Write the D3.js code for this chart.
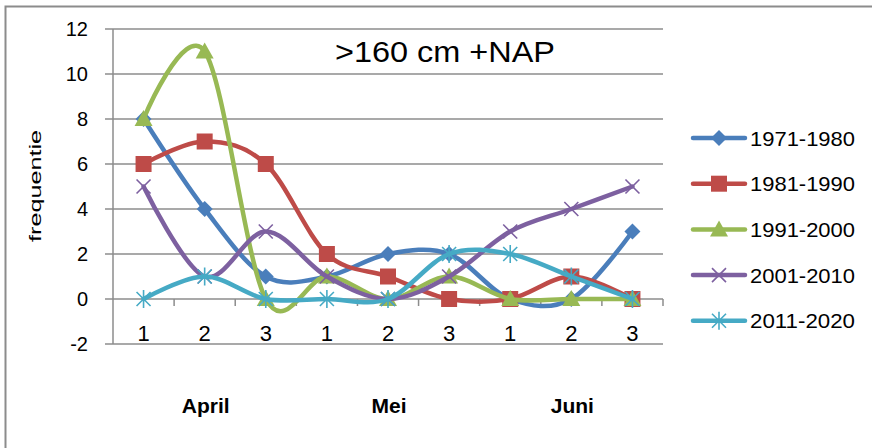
<!DOCTYPE html>
<meta charset="utf-8">
<style>
    body { margin: 0; background: #fff; }
    text { font-family: "Liberation Sans", Arial, sans-serif; fill: #000; }
    .grid line { stroke: #8c8c8c; stroke-width: 1.5px; }
    .line { fill: none; stroke-width: 4.5px; stroke-linejoin: round; stroke-linecap: round; }
</style>
<svg width="872" height="448"></svg>
<script src="https://d3js.org/d3.v7.min.js"></script>
<script>

    var categories = ["1", "2", "3", "1", "2", "3", "1", "2", "3"];
    var months = ["April", "Mei", "Juni"];
    var yTicks = [-2, 0, 2, 4, 6, 8, 10, 12];

    var names = ["1971-1980", "1981-1990", "1991-2000", "2001-2010", "2011-2020"];
    var s1971 = [8, 4, 1, 1, 2, 2, 0, 0, 3];
    var s1981 = [6, 7, 6, 2, 1, 0, 0, 1, 0];
    var s1991 = [8, 11, 0, 1, 0, 1, 0, 0, 0];
    var s2001 = [5, 1, 3, 1, 0, 1, 3, 4, 5];
    var s2011 = [0, 1, 0, 0, 0, 2, 2, 1, 0];

    var colors = ["#4a7ebb", "#be4b48", "#98b954", "#7d60a0", "#46aac5"];
    var shapes = ["diamond", "square", "triangle", "cross", "star"];

    var series = [s1971, s1981, s1991, s2001, s2011].map(function(v, i) {
        return {name: names[i], values: v, color: colors[i], shape: shapes[i]};
    });

    var svg = d3.select("svg");

    // outer chart border
    svg.append("rect")
        .attr("x", 5.5).attr("y", 6.5)
        .attr("width", 900).attr("height", 500)
        .attr("fill", "none").attr("stroke", "#8c8c8c").attr("stroke-width", 2);

    var x = d3.scaleBand().domain(d3.range(categories.length)).range([113, 663]);
    var y = d3.scaleLinear().domain([-2, 12]).range([344, 29]);

    // gridlines
    svg.append("g").attr("class", "grid")
        .selectAll("line").data(yTicks).enter().append("line")
        .attr("x1", 105).attr("x2", 663)
        .attr("y1", function(d) { return y(d); })
        .attr("y2", function(d) { return y(d); });

    // y axis line
    svg.append("line")
        .attr("x1", 113).attr("x2", 113)
        .attr("y1", y(12)).attr("y2", y(-2))
        .attr("stroke", "#8c8c8c").attr("stroke-width", 1.5);

    // x axis ticks on zero line
    svg.append("g").attr("class", "grid")
        .selectAll("line").data(d3.range(1, categories.length + 1)).enter().append("line")
        .attr("x1", function(d) { return 113 + d * x.step(); })
        .attr("x2", function(d) { return 113 + d * x.step(); })
        .attr("y1", y(0)).attr("y2", y(0) + 7);

    // y tick labels
    svg.append("g").selectAll("text").data(yTicks).enter().append("text")
        .attr("x", 88)
        .attr("y", function(d) { return y(d); })
        .attr("dy", "0.36em")
        .attr("text-anchor", "end")
        .style("font-size", "20px")
        .text(function(d) { return d; });

    // category labels
    svg.append("g").selectAll("text").data(categories).enter().append("text")
        .attr("x", function(d, i) { return x(i) + x.bandwidth() / 2; })
        .attr("y", 341)
        .attr("text-anchor", "middle")
        .style("font-size", "22px")
        .text(function(d) { return d; });

    // month labels
    svg.append("g").selectAll("text").data(months).enter().append("text")
        .attr("x", function(d, i) { return x(i * 3 + 1) + x.bandwidth() / 2 + 1; })
        .attr("y", 413)
        .attr("text-anchor", "middle")
        .style("font-size", "21px")
        .style("font-weight", "bold")
        .text(function(d) { return d; });

    // y axis title
    svg.append("text")
        .attr("transform", "translate(41,186) rotate(-90)")
        .attr("text-anchor", "middle")
        .attr("textLength", 112)
        .attr("lengthAdjust", "spacingAndGlyphs")
        .style("font-size", "17px")
        .text("frequentie");

    // chart title
    svg.append("text")
        .attr("x", 445).attr("y", 62)
        .attr("text-anchor", "middle")
        .attr("textLength", 220)
        .attr("lengthAdjust", "spacingAndGlyphs")
        .style("font-size", "29px")
        .text(">160 cm +NAP");

    var line = d3.line()
        .curve(d3.curveCardinal.tension(0))
        .x(function(d, i) { return x(i) + x.bandwidth() / 2; })
        .y(function(d) { return y(d); });

    function marker(g, shape, color) {
        if (shape === "diamond") {
            g.append("path").attr("d", "M0,-8L8,0L0,8L-8,0Z").attr("fill", color);
        } else if (shape === "square") {
            g.append("rect").attr("x", -8).attr("y", -8).attr("width", 16).attr("height", 16)
                .attr("fill", color);
        } else if (shape === "triangle") {
            g.append("path").attr("d", "M0,-9L9,7L-9,7Z").attr("fill", color);
        } else if (shape === "cross") {
            g.append("path").attr("d", "M-7,-7L7,7M-7,7L7,-7")
                .attr("stroke", color).attr("stroke-width", 1.6).attr("fill", "none");
        } else if (shape === "star") {
            g.append("path").attr("d", "M-7,-7L7,7M-7,7L7,-7M0,-9L0,9")
                .attr("stroke", color).attr("stroke-width", 1.6).attr("fill", "none");
        }
    }

    series.forEach(function(s) {
        var g = svg.append("g");
        g.append("path")
            .datum(s.values)
            .attr("class", "line")
            .attr("stroke", s.color)
            .attr("d", line);
        s.values.forEach(function(v, i) {
            var m = g.append("g")
                .attr("transform", "translate(" + (x(i) + x.bandwidth() / 2) + "," + y(v) + ")");
            marker(m, s.shape, s.color);
        });
    });

    // legend
    var legend = svg.append("g").selectAll("g").data(series).enter().append("g")
        .attr("transform", function(d, i) { return "translate(0," + (138 + i * 45.7) + ")"; });

    legend.append("line")
        .attr("x1", 693).attr("x2", 745)
        .attr("stroke", function(d) { return d.color; })
        .attr("stroke-width", 4.5)
        .attr("stroke-linecap", "round");

    legend.each(function(d) {
        var m = d3.select(this).append("g").attr("transform", "translate(719,0)");
        marker(m, d.shape, d.color);
    });

    legend.append("text")
        .attr("x", 750)
        .attr("dy", "0.36em")
        .attr("textLength", 105)
        .attr("lengthAdjust", "spacingAndGlyphs")
        .style("font-size", "21px")
        .text(function(d) { return d.name; });

</script>
